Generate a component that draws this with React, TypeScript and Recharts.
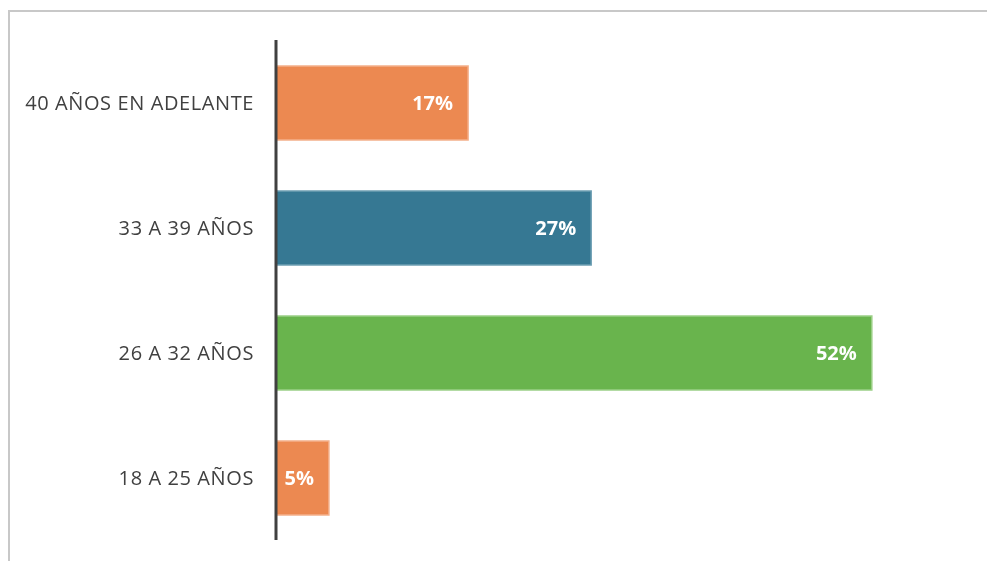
import React from "react";
import { BarChart, Bar, XAxis, YAxis, Cell, LabelList } from "recharts";

const categories = ["40 AÑOS EN ADELANTE", "33 A 39 AÑOS", "26 A 32 AÑOS", "18 A 25 AÑOS"];
const values = [0.167, 0.274, 0.518, 0.046];
const colors = ["#EC8951", "#367893", "#69B44D", "#EC8951"];
const strokes = ["#F4B08A", "#6E9FB3", "#9BCF86", "#F4B08A"];

const data = categories.map((c, i) => ({ name: c, value: values[i] }));

const fontFamily = "'Open Sans', 'Noto Sans', sans-serif";

export default function App() {
  return (
    <div>
      <div
        style={{
          position: "fixed",
          left: 8,
          top: 10,
          right: -10,
          bottom: -10,
          borderTop: "2px solid #c8c8c8",
          borderLeft: "2px solid #c8c8c8",
        }}
      />
      <div style={{ position: "absolute", left: 8, top: 11 }}>
        <BarChart
          width={979}
          height={550}
          data={data}
          layout="vertical"
          margin={{ top: 29, right: 22, bottom: 21, left: 0 }}
          barSize={74}
        >
          <XAxis type="number" domain={[0, 0.599]} hide />
          <YAxis
            type="category"
            dataKey="name"
            width={268}
            axisLine={{ stroke: "#404040", strokeWidth: 3 }}
            tickLine={false}
            tickSize={0}
            tickMargin={22}
            tick={{ fill: "#404040", fontSize: 20, fontFamily, letterSpacing: 0.6 }}
          />
          <Bar dataKey="value" isAnimationActive={false} strokeWidth={1.5}>
            {data.map((d, i) => (
              <Cell key={d.name} fill={colors[i]} stroke={strokes[i]} />
            ))}
            <LabelList
              dataKey="value"
              position="insideRight"
              offset={15}
              formatter={(v: number) => `${Math.round(v * 100)}%`}
              style={{ fill: "#ffffff", fontWeight: 700, fontSize: 20, fontFamily }}
            />
          </Bar>
        </BarChart>
      </div>
    </div>
  );
}
